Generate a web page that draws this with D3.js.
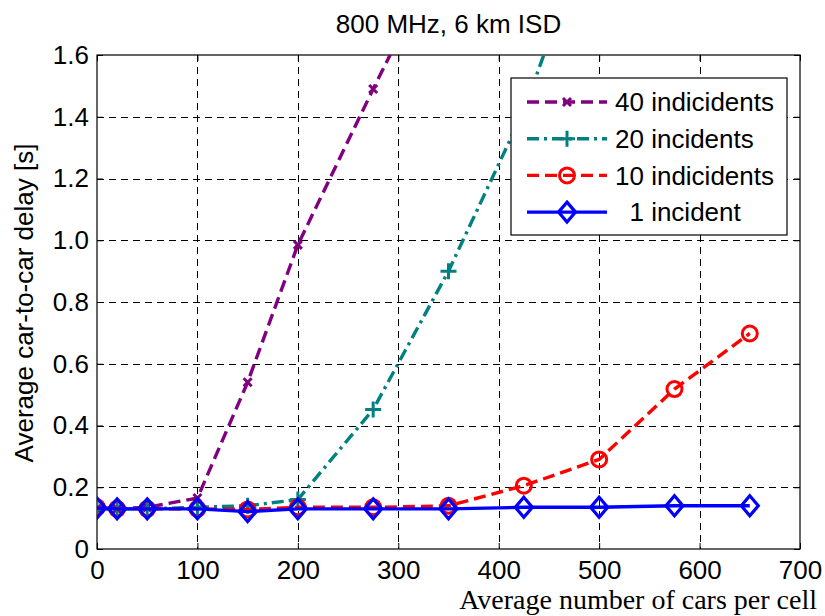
<!DOCTYPE html>
<html>
<head>
<meta charset="utf-8">
<script src="https://cdn.jsdelivr.net/npm/d3@7"></script>
<style>
  body { margin: 0; background: #fff; }
  svg { display: block; }
</style>
</head>
<body>
<div id="chart"></div>
<script>
// cars per cell (x axis)
var cars = [0, 20, 50, 100, 150, 200, 275, 350, 425, 500, 575, 650];

// average car-to-car delay [s] for each scenario
var delay40 = [0.13, 0.13, 0.135, 0.165, 0.54, 0.985, 1.49, 1.98, 2.6, 3.3, 4.0, 4.8];
var delay20 = [0.13, 0.13, 0.13, 0.135, 0.14, 0.16, 0.452, 0.90, 1.42, 2.1, 2.9, 3.8];
var delay10 = [0.135, 0.13, 0.13, 0.13, 0.128, 0.135, 0.135, 0.14, 0.205, 0.29, 0.518, 0.698];
var delay1  = [0.133, 0.13, 0.13, 0.13, 0.121, 0.13, 0.13, 0.13, 0.135, 0.135, 0.14, 0.14];

var xTicks = [0, 100, 200, 300, 400, 500, 600, 700];
var yTicks = [0, 0.2, 0.4, 0.6, 0.8, 1.0, 1.2, 1.4, 1.6];

var seriesNames = ["40 indicidents", "20 incidents", "10 indicidents", "  1 incident"];

var W = 825, H = 616;
var plot = { left: 97, right: 800, top: 55, bottom: 549 };

var svg = d3.select("#chart").append("svg")
    .attr("width", W)
    .attr("height", H);

var x = d3.scaleLinear().domain([0, 700]).range([plot.left, plot.right]);
var y = d3.scaleLinear().domain([0, 1.6]).range([plot.bottom, plot.top]);

var sans = "'Liberation Sans', Arial, sans-serif";
var fs = "26px";

// grid lines
var grid = svg.append("g").attr("stroke", "#000").attr("stroke-width", 1)
    .attr("stroke-dasharray", "7,5").attr("shape-rendering", "crispEdges");
grid.selectAll(".gx").data(xTicks.slice(1, -1)).enter().append("line")
    .attr("x1", function (d) { return Math.round(x(d)) + 0.5; })
    .attr("x2", function (d) { return Math.round(x(d)) + 0.5; })
    .attr("y1", plot.top).attr("y2", plot.bottom);
grid.selectAll(".gy").data(yTicks.slice(1, -1)).enter().append("line")
    .attr("y1", function (d) { return Math.round(y(d)) + 0.5; })
    .attr("y2", function (d) { return Math.round(y(d)) + 0.5; })
    .attr("x1", plot.left).attr("x2", plot.right);

// axes (ticks inward)
var fmtY = function (d) { return d === 0 ? "0" : d.toFixed(1); };
var axB = svg.append("g").attr("transform", "translate(0," + plot.bottom + ")")
    .call(d3.axisBottom(x).tickValues(xTicks).tickSizeInner(-6).tickSizeOuter(0).tickPadding(12));
var axL = svg.append("g").attr("transform", "translate(" + plot.left + ",0)")
    .call(d3.axisLeft(y).tickValues(yTicks).tickFormat(fmtY).tickSizeInner(-6).tickSizeOuter(0).tickPadding(8));
var axT = svg.append("g").attr("transform", "translate(0," + plot.top + ")")
    .call(d3.axisTop(x).tickValues(xTicks).tickSizeInner(-6).tickSizeOuter(0).tickFormat(""));
var axR = svg.append("g").attr("transform", "translate(" + plot.right + ",0)")
    .call(d3.axisRight(y).tickValues(yTicks).tickSizeInner(-6).tickSizeOuter(0).tickFormat(""));
[axB, axL, axT, axR].forEach(function (a) {
    a.select(".domain").remove();
    a.selectAll("line").attr("stroke", "#000");
    a.selectAll("text").attr("fill", "#000").style("font-family", sans).style("font-size", fs);
});
axB.selectAll("text").attr("dy", "0.71em");

// box
svg.append("rect")
    .attr("x", plot.left).attr("y", plot.top)
    .attr("width", plot.right - plot.left).attr("height", plot.bottom - plot.top)
    .attr("fill", "none").attr("stroke", "#000").attr("stroke-width", 1.2);

// clip for the data
svg.append("clipPath").attr("id", "clip").append("rect")
    .attr("x", plot.left).attr("y", plot.top)
    .attr("width", plot.right - plot.left).attr("height", plot.bottom - plot.top);

var series = [
    { values: delay40, color: "#800080", dash: "12,6", marker: "x" },
    { values: delay20, color: "#008080", dash: "12,5,3,5", marker: "plus" },
    { values: delay10, color: "#ff0000", dash: "12,6", marker: "circle" },
    { values: delay1,  color: "#0000ff", dash: null, marker: "diamond" }
];

function drawMarker(g, type, color) {
    if (type === "x") {
        g.append("path").attr("d", "M-4,-4L4,4M-4,4L4,-4")
            .attr("stroke", color).attr("stroke-width", 3).attr("fill", "none");
    } else if (type === "plus") {
        g.append("path").attr("d", "M-8,0L8,0M0,-8L0,8")
            .attr("stroke", color).attr("stroke-width", 3).attr("fill", "none");
    } else if (type === "circle") {
        g.append("circle").attr("r", 7.5)
            .attr("stroke", color).attr("stroke-width", 3).attr("fill", "none");
    } else {
        g.append("path").attr("d", "M0,-10L8.5,0L0,10L-8.5,0Z")
            .attr("stroke", color).attr("stroke-width", 3.2).attr("fill", "none");
    }
}

var line = d3.line()
    .x(function (d) { return x(d[0]); })
    .y(function (d) { return y(d[1]); });

var dataG = svg.append("g").attr("clip-path", "url(#clip)");
series.forEach(function (s) {
    var pts = cars.map(function (c, i) { return [c, s.values[i]]; });
    dataG.append("path")
        .datum(pts)
        .attr("d", line)
        .attr("fill", "none")
        .attr("stroke", s.color)
        .attr("stroke-width", 3.4)
        .attr("stroke-dasharray", s.dash);
    pts.forEach(function (p) {
        if (p[1] > 1.65) return;
        var g = dataG.append("g").attr("transform", "translate(" + x(p[0]) + "," + y(p[1]) + ")");
        drawMarker(g, s.marker, s.color);
    });
});

// legend
var leg = svg.append("g").attr("transform", "translate(511,78)");
leg.append("rect").attr("width", 276).attr("height", 157)
    .attr("fill", "#fff").attr("stroke", "#000").attr("stroke-width", 1.2);
series.forEach(function (s, i) {
    var ry = 24 + i * 36.7;
    var row = leg.append("g").attr("transform", "translate(0," + ry + ")");
    row.append("line").attr("x1", 16).attr("x2", 96).attr("y1", 0).attr("y2", 0)
        .attr("stroke", s.color).attr("stroke-width", 3.4).attr("stroke-dasharray", s.dash);
    var m = row.append("g").attr("transform", "translate(56,0)");
    drawMarker(m, s.marker, s.color);
    row.append("text").attr("x", 104).attr("y", 0).attr("dy", "0.36em")
        .attr("xml:space", "preserve")
        .style("white-space", "pre")
        .style("font-family", sans).style("font-size", fs)
        .text(seriesNames[i]);
});

// title and labels
svg.append("text")
    .attr("x", (plot.left + plot.right) / 2).attr("y", 33)
    .attr("text-anchor", "middle")
    .style("font-family", sans).style("font-size", fs)
    .text("800 MHz, 6 km ISD");

svg.append("text")
    .attr("transform", "translate(33,303) rotate(-90)")
    .attr("text-anchor", "middle")
    .style("font-family", sans).style("font-size", fs)
    .text("Average car-to-car delay [s]");

svg.append("text")
    .attr("x", 817).attr("y", 609)
    .attr("text-anchor", "end")
    .style("font-family", "'Liberation Serif', 'Times New Roman', serif").style("font-size", "28px")
    .text("Average number of cars per cell");
</script>
</body>
</html>
